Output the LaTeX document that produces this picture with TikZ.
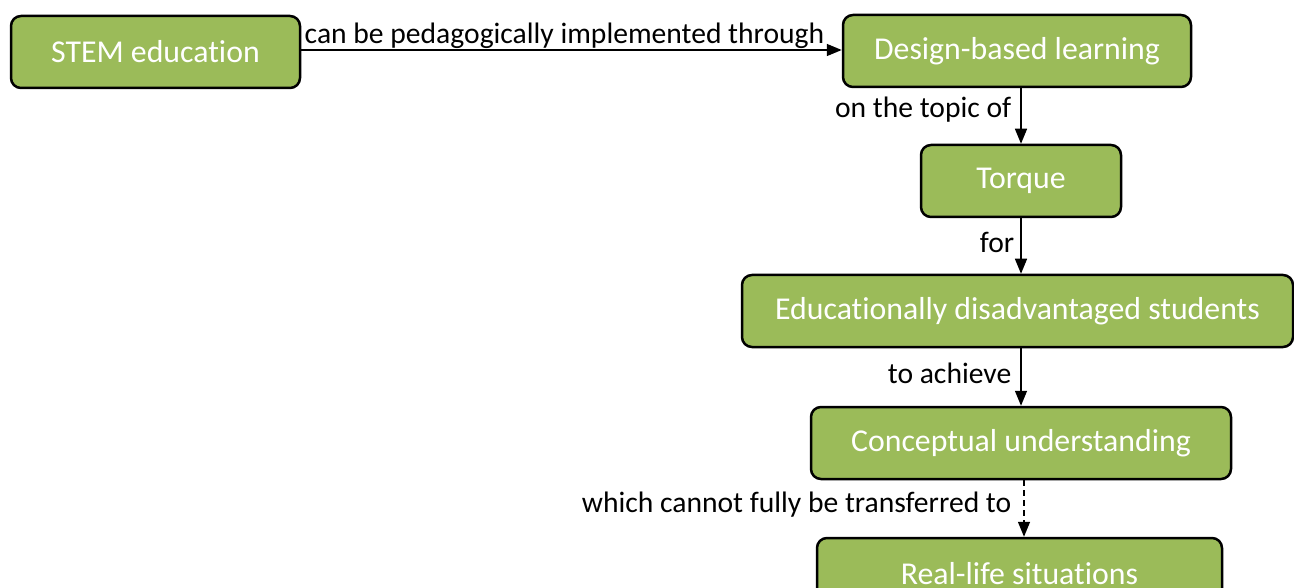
\documentclass[tikz,border=0pt]{standalone}
\usepackage{fontspec}
\setmainfont{Carlito}[Ligatures=NoCommon]
\usetikzlibrary{arrows.meta}
\definecolor{boxgreen}{HTML}{9BBB59}
\begin{document}
\begin{tikzpicture}[x=1pt,y=-1pt,
  cbox/.style={draw=black, line width=2.5pt, fill=boxgreen, rounded corners=10pt,
    text=white, font=\fontsize{31.8}{36}\selectfont, inner sep=0pt, minimum height=72pt},
  conn/.style={line width=1.5pt, -{Triangle[length=15pt,width=12pt]}},
  lbl/.style={font=\fontsize{29.6}{34}\selectfont, text=black, inner sep=9pt},
  vlbl/.style={lbl, left, yshift=4pt}]
\path[use as bounding box, clip] (0,0) rectangle (1294,588);
\node[cbox, minimum width=289pt] (stem) at (155.5,52) {STEM education};
\node[cbox, minimum width=348pt] (dbl) at (1017,51) {Design-based learning};
\node[cbox, minimum width=200pt] (torque) at (1021,181) {Torque};
\node[cbox, minimum width=551pt] (edu) at (1017.5,311) {Educationally disadvantaged students};
\node[cbox, minimum width=420pt] (conc) at (1021,443) {Conceptual understanding};
\node[cbox, minimum width=405pt] (real) at (1019.5,574) {Real-life situations};
\draw[conn] (stem.east |- 0,50) -- node[lbl, above, inner sep=1pt, xshift=-7pt] {can be pedagogically implemented through} (dbl.west |- 0,50);
\draw[conn] (torque.north |- dbl.south) -- node[vlbl, yshift=2pt] {on the topic of} (torque.north);
\draw[conn] (torque.south) -- node[vlbl, inner sep=6pt] {for} (torque.south |- edu.north);
\draw[conn] (torque.south |- edu.south) -- node[vlbl] {to achieve} (conc.north);
\draw[conn, dashed, dash pattern=on 6pt off 4pt] (conc.south -| 1024,0) -- node[vlbl, inner sep=12pt] {which cannot fully be transferred to} (real.north -| 1024,0);
\end{tikzpicture}
\end{document}
